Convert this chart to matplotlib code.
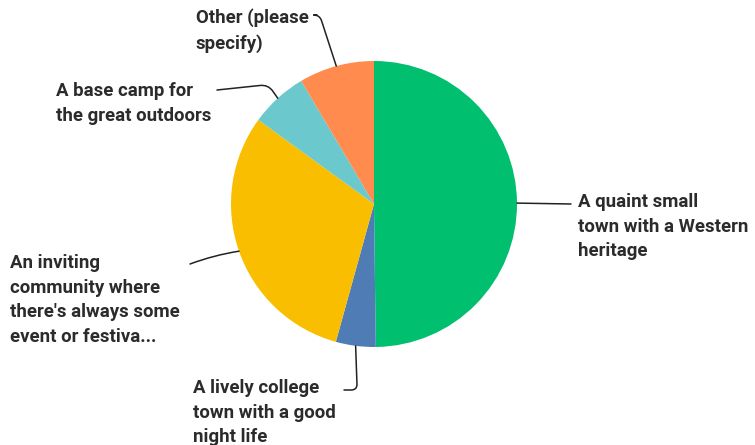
import numpy as np
import matplotlib.pyplot as plt

# response shares, clockwise from 12 o'clock
answers = [
    "A quaint small\ntown with a Western\nheritage",
    "A lively college\ntown with a good\nnight life",
    "An inviting\ncommunity where\nthere's always some\nevent or festiva...",
    "A base camp for\nthe great outdoors",
    "Other (please\nspecify)",
]
shares = [49.8, 4.5, 30.7, 6.5, 8.5]
colors = ["#00BF6F", "#507CB6", "#F9BE00", "#6BC8CD", "#FF8B4F"]

W, H = 755, 445
CX, CY, R = 374, 204, 143


def px(x, y):
    # pixel position (top-left origin) -> data units of the pie
    return (x - CX) / R, (CY - y) / R


fig = plt.figure(figsize=(W / 100, H / 100), dpi=100)
ax = fig.add_axes([0, 0, 1, 1])

wedges, _ = ax.pie(shares, colors=colors, startangle=90, counterclock=False,
                   radius=1, wedgeprops=dict(linewidth=0))

ax.set_xlim(px(0, 0)[0], px(W, 0)[0])
ax.set_ylim(px(0, H)[1], px(0, 0)[1])
ax.set_aspect("equal", adjustable="datalim")
ax.axis("off")

# label anchor (top-left of text block), leader end, connection style
label_pos = [(578, 193), (193, 379), (10, 254), (56, 82), (196, 8)]
leader_end = [(571, 204), (344, 390), (190, 264), (217, 90), (317, 15)]
conn = [
    "arc3",
    "angle,angleA=0,angleB=92,rad=6",
    "arc3,rad=-0.05",
    "angle,angleA=6,angleB=125,rad=8",
    "angle,angleA=0,angleB=108,rad=6",
]

for w, txt, lp, le, cs in zip(wedges, answers, label_pos, leader_end, conn):
    mid = np.deg2rad((w.theta1 + w.theta2) / 2)
    edge = (np.cos(mid), np.sin(mid))
    ax.annotate("", xy=edge, xytext=px(*le),
                arrowprops=dict(arrowstyle="-", color="#222222", lw=1.1,
                                connectionstyle=cs, shrinkA=0, shrinkB=0))
    ax.text(*px(*lp), txt, ha="left", va="top", fontsize=13.4,
            fontfamily="Roboto", fontweight="bold", color="#2B2B2B",
            linespacing=1.47)

fig.savefig("out.png", dpi=100, facecolor="w")
